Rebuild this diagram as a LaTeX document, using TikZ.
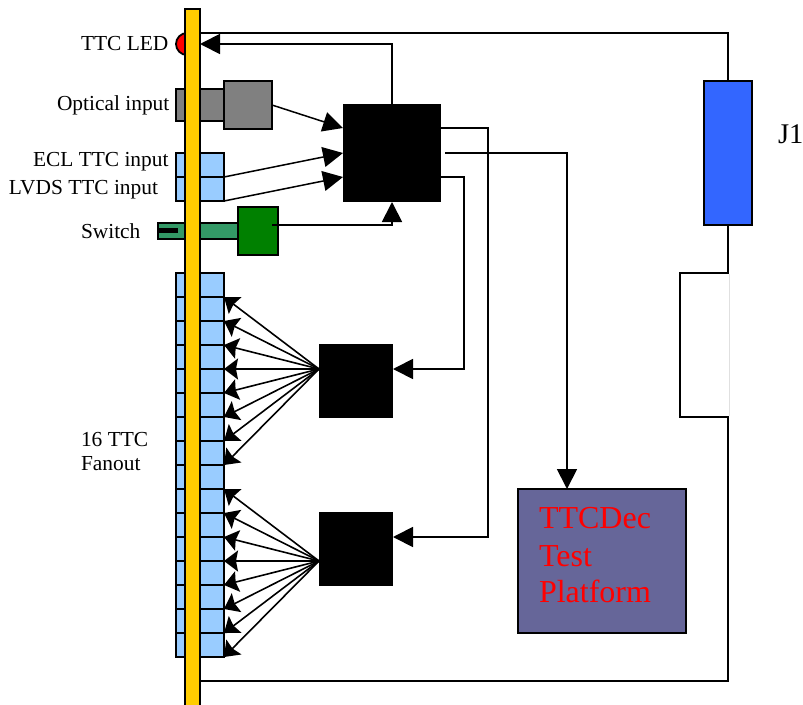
\documentclass[tikz,border=0pt]{standalone}
\usepackage{fontspec}
\setmainfont{Liberation Serif}
\usetikzlibrary{arrows.meta}
\definecolor{barY}{HTML}{FFCC00}
\definecolor{lblue}{HTML}{99CCFF}
\definecolor{jblue}{HTML}{3366FF}
\definecolor{swg}{HTML}{339966}
\definecolor{dkg}{HTML}{008000}
\definecolor{plat}{HTML}{666699}
\tikzset{
  blk/.style={draw=black,line width=1.8pt,inner sep=0pt,outer sep=0pt,anchor=north west},
  sq/.style={blk,fill=black,draw=none},
  lbl/.style={font=\fontsize{21.4}{21.4}\selectfont,anchor=base west,inner sep=0pt,outer sep=0pt,text=black},
  wire/.style={line width=1.8pt,draw=black},
  thin wire/.style={line width=1.5pt,draw=black},
  bigarrow/.style={wire,-{Triangle[length=20pt,width=20pt]},shorten >=0pt},
  fanarrow/.style={line width=1.6pt,draw=black,-{Stealth[length=14pt,width=21pt,inset=2pt]}},
}
\begin{document}
\begin{tikzpicture}[x=1pt,y=-1pt]
\useasboundingbox (0,0) rectangle (803,704);
% LED
\node[draw=black,line width=1.8pt,fill=red,circle,minimum size=22pt,inner sep=0pt,outer sep=0pt] (led) at (187,44) {};
% Optical
\node[blk,fill=gray,minimum width=48pt,minimum height=32pt] (optb) at (176,89) {};
\node[blk,fill=gray,minimum width=48pt,minimum height=48pt] (opt) at (224,81) {};
% ECL / LVDS
\node[blk,fill=lblue,minimum width=48pt,minimum height=24pt] (ecl) at (176,153) {};
\node[blk,fill=lblue,minimum width=48pt,minimum height=24pt] (lvds) at (176,177) {};
% Switch
\node[blk,fill=swg,minimum width=80pt,minimum height=16pt] (swb) at (158,223) {};
\node[blk,fill=black,draw=none,minimum width=19pt,minimum height=5pt] (slit) at (159,228) {};
\node[blk,fill=dkg,minimum width=40pt,minimum height=48pt] (sw) at (238,207) {};
% Fanout
\foreach \i in {1,...,16}{
  \node[blk,fill=lblue,minimum width=48pt,minimum height=24pt] (f\i) at (176,{273+24*(\i-1)}) {};
}
% Bar
\node[blk,fill=barY,minimum width=15pt,minimum height=705pt] (bar) at (185,9) {};
% Black blocks
\node[sq,minimum width=98pt,minimum height=98pt] (main) at (343,104) {};
\node[sq,minimum width=74pt,minimum height=74pt] (fanA) at (319,344) {};
\node[sq,minimum width=74pt,minimum height=74pt] (fanB) at (319,512) {};
% Platform
\node[blk,fill=plat,minimum width=168pt,minimum height=144pt] (plat) at (518,489) {};
% J1
\node[blk,fill=jblue,minimum width=48pt,minimum height=144pt] (j1) at (704,81) {};
% Coordinates
\coordinate (tr) at (728,33);
\coordinate (n1) at (680,273);
\coordinate (n2) at (680,417);
\coordinate (br) at (728,681);
\coordinate (p1) at (343,128);
\coordinate (p2) at (343,177);
\coordinate (o1) at (441,128);
\coordinate (o2) at (441,177);
\coordinate (o3) at (445,153);
\coordinate (sws) at (272,225);
\coordinate (v1) at (488,128);
\coordinate (v2) at (464,177);
\coordinate (v3) at (567,153);
% Backplane outline
\draw[wire] (bar.east |- tr) -- (tr) -- (j1.north);
\draw[wire] (j1.south) -- (j1.south |- n1) -- (n1) -- (n2) -- (j1.south |- n2) -- (br) -- (bar.east |- br);
\draw[line width=1pt,draw=black!12] (729,274) -- (729,416);
% Main block connections
\draw[bigarrow] (main.north) -- (main.north |- led) -- (bar.east |- led);
\draw[bigarrow,thin wire] (opt.east) -- (p1);
\draw[bigarrow,thin wire] (ecl.south east) -- (main.west);
\draw[bigarrow,thin wire] (lvds.south east) -- (p2);
\draw[bigarrow] (sws) -- (main.south |- sws) -- (main.south);
\draw[bigarrow] (o2) -- (v2) -- (v2 |- f4.south) -- (fanA.east |- f4.south);
\draw[bigarrow] (o1) -- (v1) -- (v1 |- f11.south) -- (fanB.east |- f11.south);
\draw[bigarrow] (o3) -- (v3) -- (v3 |- plat.north);
% Fans
\coordinate (aA) at (fanA.west |- f4.south);
\coordinate (aB) at (fanB.west |- f12.south);
\foreach \i in {1,...,8}{ \draw[fanarrow] (aA) -- (f\i.south east); }
\foreach \i in {9,...,16}{ \draw[fanarrow] (aB) -- (f\i.south east); }
% Labels
\node[lbl] (t1) at (81,50) {TTC LED};
\node[lbl] (t2) at (57,110) {Optical input};
\node[lbl] (t3) at (33,166) {ECL TTC input};
\node[lbl] (t4) at (9,194) {LVDS TTC input};
\node[lbl] (t5) at (81,238) {Switch};
\node[lbl] (t6) at (81,446) {16 TTC};
\node[lbl] (t7) at (81,470) {Fanout};
\node[lbl,font=\fontsize{28.5}{28.5}\selectfont] (t8) at (778,143) {J1};
\node[lbl,font=\fontsize{32}{32}\selectfont,text=red] (t9) at (539,528) {TTCDec};
\node[lbl,font=\fontsize{32}{32}\selectfont,text=red] (t10) at (539,566) {Test};
\node[lbl,font=\fontsize{32}{32}\selectfont,text=red] (t11) at (539,602) {Platform};
\end{tikzpicture}
\end{document}
